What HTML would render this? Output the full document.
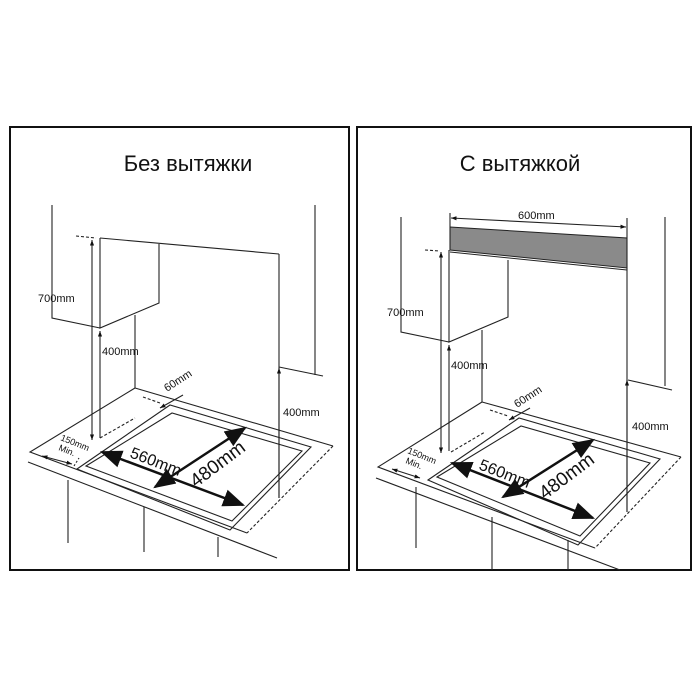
<!DOCTYPE html>
<html><head><meta charset="utf-8"><style>
html,body{margin:0;padding:0;background:#fff;}
svg{display:block}
text{font-family:"Liberation Sans",sans-serif;fill:#111}
</style></head><body>
<svg width="700" height="700" viewBox="0 0 700 700" xmlns="http://www.w3.org/2000/svg">
<defs>
<marker id="sm" viewBox="0 0 8 6" refX="8" refY="3" markerWidth="5" markerHeight="4" orient="auto-start-reverse"><path d="M0,0 L8,3 L0,6z" fill="#111"/></marker>
<marker id="bg" viewBox="0 0 10 8" refX="9" refY="4" markerWidth="22" markerHeight="18" markerUnits="userSpaceOnUse" orient="auto-start-reverse"><path d="M0,0 L10,4 L0,8z" fill="#111"/></marker>
</defs>
<rect x="10" y="127" width="339" height="443" fill="none" stroke="#111" stroke-width="2"/>
<rect x="357" y="127" width="334" height="443" fill="none" stroke="#111" stroke-width="2"/>
<text x="188" y="171" font-size="22" text-anchor="middle" font-family="Liberation Sans, DejaVu Sans, sans-serif">Без вытяжки</text>
<text x="520" y="171" font-size="22" text-anchor="middle" font-family="Liberation Sans, DejaVu Sans, sans-serif">С вытяжкой</text>

<!-- LEFT PANEL -->
<g stroke="#222" stroke-width="1.1" fill="none">
<path d="M52,205 V318 L100,328"/>
<path d="M100,238 L279,254"/>
<path d="M100,238 V328 L159,303 V244"/>
<path d="M76,236 L96,238" stroke-dasharray="3,2"/>
<path d="M92,440 V240" marker-end="url(#sm)" marker-start="url(#sm)"/>
<path d="M100,438 V331" marker-end="url(#sm)"/>
<path d="M135,315 V388"/>
<path d="M279,254 V498"/>
<path d="M279,498 V368" marker-end="url(#sm)"/>
<path d="M315,205 V375"/>
<path d="M279,367 L323,376"/>
<path d="M135,388 L333,446"/>
<path d="M135,388 L30,452 L247,533"/>
<path d="M333,446 L247,533" stroke-dasharray="3,2"/>
<path d="M28,462 L277,558"/>
<path d="M68,480 V543 M144,507 V552 M218,537 V557"/>
<path d="M77,469 L170,405 L311,447 L230,530 Z"/>
<path d="M86,466 L172,413 L302,451 L232,521 Z"/>
<path d="M100,438 L135,418" stroke-dasharray="3,2"/>
<path d="M143,397 L160,403" stroke-dasharray="3,2"/>
<path d="M160,408 L183,395" marker-start="url(#sm)"/>
<path d="M42,456 L72,464" marker-start="url(#sm)" marker-end="url(#sm)"/>
<path d="M74,466 L79,458" stroke-dasharray="2,2"/>
</g>
<g stroke="#111" stroke-width="2.5" fill="none">
<path d="M102,452 L243,505" marker-start="url(#bg)" marker-end="url(#bg)"/>
<path d="M155,487 L245,428" marker-start="url(#bg)" marker-end="url(#bg)"/>
</g>
<text x="38" y="302" font-size="11">700mm</text>
<text x="102" y="355" font-size="11">400mm</text>
<text x="283" y="416" font-size="11">400mm</text>
<text font-size="11" transform="translate(167,392) rotate(-33)">60mm</text>
<text font-size="9" transform="translate(60,440) rotate(22)">150mm</text>
<text font-size="9" transform="translate(58,450) rotate(22)">Min.</text>
<text font-size="16" transform="translate(129,457) rotate(21)">560mm</text>
<text font-size="19" transform="translate(196,488) rotate(-37)">480mm</text>

<!-- RIGHT PANEL -->
<polygon points="450,227 627,238 627,268 450,250" fill="#8a8a8a" stroke="#222" stroke-width="1"/>
<path d="M450,252 L627,270" stroke="#222" stroke-width="1" fill="none"/>
<g stroke="#222" stroke-width="1.1" fill="none">
<path d="M451,218 L626,227" marker-start="url(#sm)" marker-end="url(#sm)"/>
<path d="M450,213 V250"/>
<path d="M627,218 V512"/>
<path d="M627,512 V380" marker-end="url(#sm)"/>
<path d="M401,217 V332 L449,342"/>
<path d="M449,250 V342 L508,317 V260"/>
<path d="M425,250 L440,251" stroke-dasharray="3,2"/>
<path d="M441,453 V252" marker-end="url(#sm)" marker-start="url(#sm)"/>
<path d="M449,451 V345" marker-end="url(#sm)"/>
<path d="M482,330 V402"/>
<path d="M665,217 V386"/>
<path d="M628,380 L672,390"/>
<path d="M482,402 L681,457"/>
<path d="M482,402 L378,467 L595,548"/>
<path d="M681,457 L595,548" stroke-dasharray="3,2"/>
<path d="M376,478 L620,570"/>
<path d="M416,487 V548 M492,517 V570 M568,540 V570"/>
<path d="M428,480 L519,418 L660,459 L578,545 Z"/>
<path d="M437,477 L521,426 L650,463 L580,536 Z"/>
<path d="M451,452 L485,432" stroke-dasharray="3,2"/>
<path d="M490,410 L508,416" stroke-dasharray="3,2"/>
<path d="M509,420 L530,408" marker-start="url(#sm)"/>
<path d="M392,469 L420,478" marker-start="url(#sm)" marker-end="url(#sm)"/>
</g>
<g stroke="#111" stroke-width="2.5" fill="none">
<path d="M452,463 L593,518" marker-start="url(#bg)" marker-end="url(#bg)"/>
<path d="M503,497 L593,440" marker-start="url(#bg)" marker-end="url(#bg)"/>
</g>
<text x="518" y="219" font-size="11">600mm</text>
<text x="387" y="316" font-size="11">700mm</text>
<text x="451" y="369" font-size="11">400mm</text>
<text x="632" y="430" font-size="11">400mm</text>
<text font-size="11" transform="translate(517,408) rotate(-33)">60mm</text>
<text font-size="9" transform="translate(407,453) rotate(22)">150mm</text>
<text font-size="9" transform="translate(405,463) rotate(22)">Min.</text>
<text font-size="16" transform="translate(478,469) rotate(21)">560mm</text>
<text font-size="19" transform="translate(545,500) rotate(-37)">480mm</text>
</svg>
</body></html>
